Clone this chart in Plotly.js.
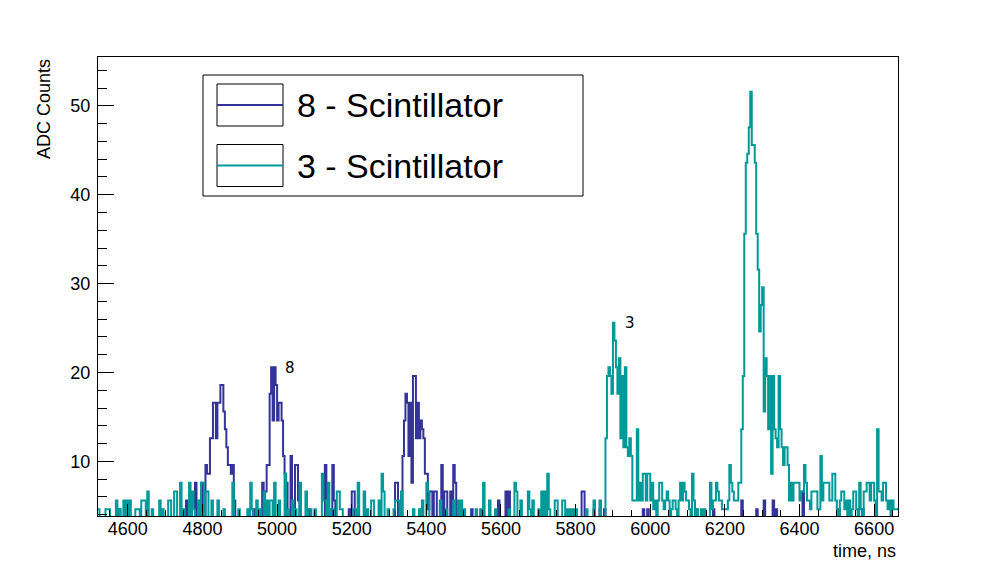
<!DOCTYPE html>
<html>
<head>
<meta charset="utf-8">
<script src="https://cdn.plot.ly/plotly-3.0.1.min.js"></script>
<style>
  body { margin: 0; background: #fff; }
  #chart { width: 998px; height: 574px; }
</style>
</head>
<body>
<div id="chart"></div>
<script>
// histogram binning, ns
const binStart = 4520;
const binWidth = 4;

// ADC counts per 4 ns bin, one row = 100 ns (0 = below the drawn range)
const counts8 = [
  0,0,0,0,0, 0,0,0,0,0, 0,0,0,0,4.6, 0,0,0,0,0, 0,0,0,0,0,
  0,0,0,0,0, 0,0,0,0,0, 0,0,0,0,0, 0,0,0,0,0, 0,0,0,0,0,
  0,0,0,0,0, 0,0,0,0,5.6, 0,0,0,0,0, 7.6,0,0,0,7.6, 0,0,9.6,8.6,8.6,
  12.6,12.6,16.6,16.6,12.6, 16.6,16.6,18.6,18.6,15.6, 13.6,11.6,9.6,9.6,8.6, 9.6,5.6,0,0,0, 0,0,0,0,0,
  0,0,0,0,4.6, 0,0,0,0,0, 7.6,6.6,6.6,9.6,9.6, 17.6,20.6,14.6,20.6,18.6, 14.6,16.6,16.6,14.6,10.6,
  8.6,7.6,0,0,10.6, 0,0,9.6,9.6,5.6, 0,0,0,0,0, 0,4.6,0,0,0, 0,0,0,0,0,
  0,0,9.6,0,0, 0,0,9.6,5.6,0, 0,0,0,0,0, 0,0,0,4.6,0, 6.6,6.6,0,0,0,
  0,0,0,0,0, 0,0,0,0,0, 0,0,0,0,0, 0,0,0,0,0, 0,0,0,0,7.6,
  7.6,0,0,0,10.6, 14.6,17.6,16.6,10.6,16.6, 7.6,19.6,19.6,12.6,16.6, 12.6,14.6,13.6,12.6,8.6, 8.6,4.6,6.6,6.6,0,
  6.6,6.6,0,0,0, 9.6,0,6.6,6.6,0, 0,6.6,0,9.6,7.6, 0,0,0,0,0, 0,0,0,0,0,
  4.6,0,0,0,0, 0,0,0,0,0, 0,0,0,0,0, 0,0,0,5.6,0, 0,0,0,6.6,0,
  6.6,0,0,0,0, 0,0,0,0,0, 0,0,0,0,0, 0,0,0,0,0, 0,0,0,0,0,
  0,0,0,0,0, 0,0,0,0,0, 0,0,0,0,0, 0,0,0,0,0, 0,0,0,0,6.6,
  6.6,0,0,0,0, 0,0,4.6,0,0, 0,4.6,0,0,4.6, 0,0,0,0,0, 0,0,0,0,0,
  0,0,0,0,0, 0,0,0,0,0, 0,0,0,0,0, 4.6,0,0,4.6,0, 0,0,0,0,0,
  0,0,0,0,0, 0,0,0,0,0, 0,0,0,0,0, 0,0,0,0,0, 0,0,0,0,0,
  4.6,0,0,0,0, 0,0,0,0,0, 0,0,4.6,0,0, 0,0,0,0,0, 0,0,0,0,0,
  0,0,0,0,0, 0,5.6,0,0,0, 0,0,0,0,0, 0,4.6,0,0,0, 0,5.6,0,0,0,
  0,0,5.6,0,4.6, 0,0,0,0,0, 0,0,0,0,0, 0,0,0,0,0, 0,0,6.6,0,0,
  0,0,0,0,0, 0,0,0,0,0, 0,0,0,0,0, 0,0,0,0,0, 0,4.6,0,0,0,
  0,0,0,0,0, 0,0,0,0,0, 0,0,4.6,0,0, 0,0,0,0,0, 0,0,0,0,0,
  0,0,0,0,0, 0,0,0,0,0, 0
];

const counts3 = [
  4.6,0,0,0,0, 4.6,4.6,4.6,0,0, 0,0,5.6,0,4.6, 0,0,5.6,0,5.6, 0,5.6,0,0,0,
  4.6,4.6,4.6,0,5.6, 5.6,5.6,0,6.6,0, 0,4.6,0,0,0, 0,5.6,0,4.6,0, 0,0,5.6,5.6,0,
  0,6.6,6.6,0,0, 7.6,0,4.6,0,0, 0,7.6,0,6.6,4.6, 0,0,5.6,0,7.6, 7.6,0,6.6,6.6,0,
  0,5.6,0,0,0, 5.6,0,0,0,4.6, 0,0,0,0,0, 7.6,0,0,0,4.6, 0,0,0,0,0,
  4.6,0,7.6,4.6,0, 0,5.6,0,4.6,0, 0,6.6,0,5.6,0, 5.6,5.6,0,7.6,0, 0,5.6,0,0,0,
  8.6,0,4.6,0,0, 5.6,0,4.6,0,0, 7.6,0,0,0,6.6, 0,4.6,4.6,0,0, 4.6,0,0,0,0,
  8.6,5.6,5.6,0,7.6, 0,4.6,4.6,0,0, 6.6,6.6,4.6,4.6,0, 0,0,0,0,0, 0,4.6,4.6,0,7.6,
  0,0,0,6.6,0, 4.6,0,0,5.6,5.6, 0,0,0,5.6,0, 8.6,6.6,0,0,4.6, 0,0,0,4.6,5.6,
  5.6,5.6,0,6.6,0, 0,0,0,0,0, 0,4.6,0,0,0, 4.6,0,5.6,0,0, 7.6,6.6,0,0,0,
  0,0,0,0,5.6, 0,0,0,4.6,0, 0,0,0,5.6,0, 0,5.6,0,5.6,0, 4.6,0,0,0,0,
  0,0,0,4.6,0, 0,4.6,0,7.6,0, 0,0,5.6,0,0, 0,4.6,0,0,0, 0,0,0,0,0,
  4.6,0,0,0,7.6, 6.6,0,0,5.6,0, 0,0,0,6.6,4.6, 0,5.6,0,0,0, 4.6,0,6.6,0,6.6,
  0,8.6,4.6,0,0, 0,5.6,5.6,0,0, 0,5.6,5.6,0,4.6, 0,4.6,0,4.6,0, 4.6,0,0,0,0,
  0,0,4.6,0,0, 0,0,5.6,0,0, 0,5.6,0,0,0, 12.6,19.6,20.6,19.6,17.6, 25.6,23.6,20.6,17.6,21.6,
  12.6,19.6,11.6,20.6,11.6, 10.6,12.6,10.6,5.6,5.6, 5.6,13.6,5.6,7.6,5.6, 8.6,8.6,5.6,8.6,8.6, 5.6,7.6,4.6,5.6,0,
  5.6,7.6,7.6,5.6,4.6, 5.6,6.6,5.6,0,4.6, 5.6,5.6,4.6,0,5.6, 7.6,5.6,7.6,6.6,5.6, 5.6,4.6,0,8.6,5.6,
  0,4.6,0,0,4.6, 0,4.6,0,0,0, 7.6,4.6,5.6,5.6,7.6, 6.6,5.6,5.6,4.6,4.6, 4.6,4.6,5.6,9.6,7.6,
  6.6,5.6,5.6,5.6,7.6, 7.6,13.6,19.6,35.6,43.6, 44.6,47.6,51.6,45.6,45.6, 43.6,35.6,31.6,24.6,27.6, 29.6,15.6,21.6,19.6,13.6,
  19.6,8.6,19.6,13.6,12.6, 11.6,19.6,13.6,11.6,9.6, 11.6,11.6,9.6,5.6,7.6, 5.6,7.6,7.6,7.6,7.6, 5.6,6.6,6.6,9.6,7.6,
  5.6,5.6,4.6,6.6,6.6, 6.6,6.6,4.6,4.6,10.6, 5.6,7.6,7.6,7.6,7.6, 5.6,5.6,8.6,8.6,5.6, 4.6,0,5.6,6.6,6.6,
  4.6,5.6,0,5.6,0, 4.6,6.6,6.6,4.6,0, 7.6,4.6,0,6.6,6.6, 7.6,7.6,5.6,7.6,7.6, 5.6,0,13.6,6.6,6.6,
  5.6,7.6,7.6,5.6,4.6, 5.6,0,5.6,4.6,4.6, 4.6
];

const seriesNames = ['8 - Scintillator', '3 - Scintillator'];
const seriesColors = ['#333399', '#009999'];
const peakLabels = ['8', '3'];
const peakLabelX = [5035, 5945];
const peakLabelY = [20.5, 25.6];

function stepTrace(counts, name, color) {
  // bin edges, last value repeated so the final bin gets its full width
  let x = counts.map((c, i) => binStart + i * binWidth);
  x.push(binStart + counts.length * binWidth);
  let y = counts.concat([counts[counts.length - 1]]);
  return {
    x: x, y: y, name: name,
    type: 'scatter', mode: 'lines',
    line: { shape: 'hv', color: color, width: 2 },
    hoverinfo: 'skip', showlegend: false
  };
}

var traces = [
  stepTrace(counts8, seriesNames[0], seriesColors[0]),
  stepTrace(counts3, seriesNames[1], seriesColors[1])
];

// pixel -> paper helpers for the ROOT style legend
const L = 98, T = 57, W = 800, H = 459;
const px = v => (v - L) / W;
const py = v => (T + H - v) / H;

var shapes = [
  { type: 'rect', xref: 'paper', yref: 'paper', x0: px(203), x1: px(583), y0: py(196), y1: py(75),
    line: { color: 'black', width: 1 }, fillcolor: 'white' }
];
var annotations = [];
[105, 165.5].forEach((yc, k) => {
  shapes.push({ type: 'rect', xref: 'paper', yref: 'paper', x0: px(217), x1: px(283),
    y0: py(yc + 21), y1: py(yc - 21), line: { color: 'black', width: 1 } });
  shapes.push({ type: 'line', xref: 'paper', yref: 'paper', x0: px(217), x1: px(283),
    y0: py(yc), y1: py(yc), line: { color: seriesColors[k], width: 2 } });
  annotations.push({ xref: 'paper', yref: 'paper', x: px(295), y: py(yc), xanchor: 'left', yanchor: 'middle',
    text: seriesNames[k], showarrow: false, font: { family: 'Liberation Sans', size: 34, color: 'black' } });
});

peakLabels.forEach((t, k) => {
  annotations.push({ x: peakLabelX[k], y: peakLabelY[k], text: t, showarrow: false,
    font: { family: 'DejaVu Sans', size: 15, color: 'black' } });
});

annotations.push({ xref: 'paper', yref: 'paper', x: 1, y: py(551), xanchor: 'right', yanchor: 'middle',
  text: 'time, ns', showarrow: false, font: { family: 'Liberation Sans', size: 18, color: 'black' } });
annotations.push({ xref: 'paper', yref: 'paper', x: px(43.5), y: py(108.5), xanchor: 'center', yanchor: 'middle',
  textangle: -90, text: 'ADC Counts', showarrow: false, font: { family: 'Liberation Sans', size: 18, color: 'black' } });

var layout = {
  width: 998, height: 574,
  margin: { l: L, r: 998 - L - W, t: T, b: 574 - T - H },
  paper_bgcolor: 'white', plot_bgcolor: 'white',
  font: { family: 'Liberation Sans', size: 18, color: 'black' },
  showlegend: false,
  xaxis: {
    range: [4520, 6664], dtick: 200, tick0: 4600,
    ticks: 'inside', ticklen: 12, tickcolor: 'black', ticklabelstandoff: -4,
    tickfont: { family: 'Liberation Sans', size: 18, color: 'black' },
    minor: { dtick: 50, ticks: 'inside', ticklen: 6, tickcolor: 'black' },
    showgrid: false, zeroline: false,
    showline: true, linecolor: 'black', linewidth: 1, mirror: true
  },
  yaxis: {
    range: [3.85, 55.5], dtick: 10, tick0: 0,
    ticks: 'inside', ticklen: 16, tickcolor: 'black', ticklabelstandoff: 3,
    tickfont: { family: 'Liberation Sans', size: 18, color: 'black' },
    minor: { dtick: 2, ticks: 'inside', ticklen: 9, tickcolor: 'black' },
    showgrid: false, zeroline: false,
    showline: true, linecolor: 'black', linewidth: 1, mirror: true
  },
  shapes: shapes,
  annotations: annotations
};

Plotly.newPlot('chart', traces, layout, { displayModeBar: false, staticPlot: true });
</script>
</body>
</html>
